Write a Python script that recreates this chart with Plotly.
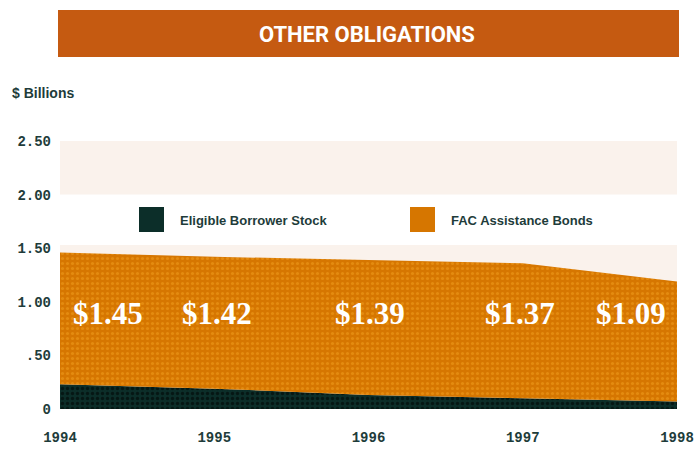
import plotly.graph_objects as go

# ---- data ----
years = [1994, 1995, 1996, 1997, 1998]
stock = [0.23, 0.19, 0.13, 0.10, 0.07]          # Eligible Borrower Stock ($ billions)
fac_bonds = [1.23, 1.23, 1.26, 1.26, 1.12]      # FAC Assistance Bonds ($ billions)
total_labels = ["$1.45", "$1.42", "$1.39", "$1.37", "$1.09"]
y_tickvals = [0, 0.5, 1.0, 1.5, 2.0, 2.5]
y_ticktext = ["0", ".50", "1.00", "1.50", "2.00", "2.50"]
x_ticktext = ["1994", "1995", "1996", "1997", "1998"]
series_names = ["Eligible Borrower Stock", "FAC Assistance Bonds"]

# label positions (style/layout)
label_x = [1994.31, 1995.02, 1996.01, 1996.98, 1997.70]
label_y = 0.895

ORANGE = "#D67600"
ORANGE_DOT = "#F2A020"
DARK = "#0C2E29"
DARK_DOT = "#000000"
BANNER = "#C55A11"
TEXT = "#1E3C3A"
BAND = "#FAF2EC"

L, R, T, B = 60, 17, 141, 40
W, H = 694, 449
plot_w = W - L - R
plot_h = H - T - B


def px_x(px):
    return (px - L) / plot_w


def px_y(py):
    return (H - B - py) / plot_h


fig = go.Figure()

fig.add_trace(go.Scatter(
    x=years, y=stock, name=series_names[0], stackgroup="one",
    mode="none", fillcolor=DARK,
    fillpattern=dict(shape=".", bgcolor=DARK, fgcolor=DARK_DOT, size=5, solidity=0.35),
    hoverinfo="x+y", showlegend=False,
))
fig.add_trace(go.Scatter(
    x=years, y=fac_bonds, name=series_names[1], stackgroup="one",
    mode="none", fillcolor=ORANGE,
    fillpattern=dict(shape=".", bgcolor=ORANGE, fgcolor=ORANGE_DOT, size=5, solidity=0.3),
    hoverinfo="x+y", showlegend=False,
))

# value labels
for xv, txt in zip(label_x, total_labels):
    fig.add_annotation(
        x=xv, y=label_y, xref="x", yref="y", text=txt, showarrow=False,
        font=dict(family="Liberation Serif, DejaVu Serif, serif", size=31, color="white", weight="bold"),
        xanchor="center", yanchor="middle",
    )

shapes = []
# background bands
shapes.append(dict(type="rect", xref="paper", yref="y", x0=0, x1=1, y0=2.0, y1=2.5,
                   fillcolor=BAND, line=dict(width=0), layer="below"))
shapes.append(dict(type="rect", xref="paper", yref="y", x0=0, x1=1, y0=0, y1=1.53,
                   fillcolor=BAND, line=dict(width=0), layer="below"))
# title banner
shapes.append(dict(type="rect", xref="paper", yref="paper",
                   x0=px_x(58), x1=px_x(679), y0=px_y(57), y1=px_y(10),
                   fillcolor=BANNER, line=dict(width=0)))
# legend swatches
shapes.append(dict(type="rect", xref="paper", yref="paper",
                   x0=px_x(139), x1=px_x(164), y0=px_y(232), y1=px_y(207),
                   fillcolor=DARK, line=dict(width=0)))
shapes.append(dict(type="rect", xref="paper", yref="paper",
                   x0=px_x(410), x1=px_x(435), y0=px_y(232), y1=px_y(207),
                   fillcolor=ORANGE, line=dict(width=0)))

fig.add_annotation(
    x=px_x(367), y=px_y(34), xref="paper", yref="paper", text="OTHER OBLIGATIONS",
    showarrow=False, xanchor="center", yanchor="middle",
    font=dict(family="Liberation Sans Narrow, Roboto, sans-serif", size=22, color="white", weight="bold"),
)
fig.add_annotation(
    x=px_x(10), y=px_y(93), xref="paper", yref="paper", text="$ Billions",
    showarrow=False, xanchor="left", yanchor="middle",
    font=dict(family="Liberation Sans Narrow, Liberation Sans, sans-serif", size=14, color=TEXT, weight="bold"),
)
fig.add_annotation(
    x=px_x(178), y=px_y(220), xref="paper", yref="paper", text=series_names[0],
    showarrow=False, xanchor="left", yanchor="middle",
    font=dict(family="Liberation Sans, sans-serif", size=13, color=TEXT, weight="bold"),
)
fig.add_annotation(
    x=px_x(449), y=px_y(220), xref="paper", yref="paper", text=series_names[1],
    showarrow=False, xanchor="left", yanchor="middle",
    font=dict(family="Liberation Sans, sans-serif", size=13, color=TEXT, weight="bold"),
)

tick_font = dict(family="Liberation Mono, DejaVu Sans Mono, monospace", size=14, color=TEXT, weight="bold")

fig.update_layout(
    width=W, height=H, autosize=False,
    margin=dict(l=L, r=R, t=T, b=B, pad=0),
    paper_bgcolor="white", plot_bgcolor="white",
    shapes=shapes, showlegend=False,
    xaxis=dict(range=[1994, 1998], tickvals=years, ticktext=x_ticktext,
               showgrid=False, zeroline=False, showline=False, ticks="",
               tickfont=tick_font, ticklabelstandoff=18, fixedrange=True,
               automargin=False),
    yaxis=dict(range=[0, 2.5], tickvals=y_tickvals, ticktext=y_ticktext,
               showgrid=False, zeroline=False, showline=False, ticks="",
               tickfont=tick_font, ticklabelstandoff=8, fixedrange=True,
               automargin=False),
)

fig.write_html("out.html", config={"displayModeBar": False},
               post_script="document.body.style.margin='0px';")
